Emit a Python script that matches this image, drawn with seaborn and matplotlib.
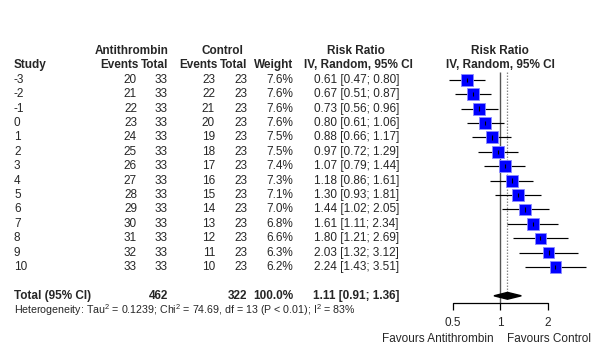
import numpy as np
import matplotlib
matplotlib.use('Agg')
import matplotlib.pyplot as plt
import seaborn as sns

# data
studies = ['-3', '-2', '-1', '0', '1', '2', '3', '4', '5', '6', '7', '8', '9', '10']
ev_anti = [20, 21, 22, 23, 24, 25, 26, 27, 28, 29, 30, 31, 32, 33]
n_anti = [33, 33, 33, 33, 33, 33, 33, 33, 33, 33, 33, 33, 33, 33]
ev_ctrl = [23, 22, 21, 20, 19, 18, 17, 16, 15, 14, 13, 12, 11, 10]
n_ctrl = [23, 23, 23, 23, 23, 23, 23, 23, 23, 23, 23, 23, 23, 23]
weight = [7.6, 7.6, 7.6, 7.6, 7.5, 7.5, 7.4, 7.3, 7.1, 7.0, 6.8, 6.6, 6.3, 6.2]
rr = [0.61, 0.67, 0.73, 0.80, 0.88, 0.97, 1.07, 1.18, 1.30, 1.44, 1.61, 1.80, 2.03, 2.24]
rr_lo = [0.47, 0.51, 0.56, 0.61, 0.66, 0.72, 0.79, 0.86, 0.93, 1.02, 1.11, 1.21, 1.32, 1.43]
rr_hi = [0.80, 0.87, 0.96, 1.06, 1.17, 1.29, 1.44, 1.61, 1.81, 2.05, 2.34, 2.69, 3.12, 3.51]
pooled = (1.11, 0.91, 1.36)
total_anti = 462
total_ctrl = 322
ticks = [0.5, 1, 2]
het_text = ('Heterogeneity: Tau$^2$ = 0.1239; Chi$^2$ = 74.69, df = 13 '
            '(P < 0.01); I$^2$ = 83%')

sns.set_theme(style='white')
plt.rcParams['font.family'] = ['Liberation Sans', 'DejaVu Sans']
plt.rcParams['mathtext.fontset'] = 'custom'
plt.rcParams['mathtext.rm'] = 'Liberation Sans'
fs = 8.5

fig = plt.figure(figsize=(6, 3.6), dpi=100)
ax = fig.add_axes([0, 0, 1, 1])
ax.set_xlim(0, 600)
ax.set_ylim(360, 0)
ax.axis('off')

fx = fig.add_axes([420 / 600, 0, 180 / 600, 1])
fx.set_xscale('log')
fx.set_xlim(0.307, 4.32)
fx.set_ylim(360, 0)
fx.axis('off')

# row layout (pixel units)
def row_y(k):
    return 51 + 14.4 * k

ys = np.array([row_y(k + 2) for k in range(len(studies))])
y_tot = row_y(17)

# headers
hb = dict(fontsize=fs, fontweight='bold', va='center')
ax.text(132, row_y(0), 'Antithrombin', ha='center', **hb)
ax.text(222, row_y(0), 'Control', ha='center', **hb)
ax.text(356, row_y(0), 'Risk Ratio', ha='center', **hb)
ax.text(14, row_y(1), 'Study', ha='left', **hb)
ax.text(139, row_y(1), 'Events', ha='right', **hb)
ax.text(168, row_y(1), 'Total', ha='right', **hb)
ax.text(218, row_y(1), 'Events', ha='right', **hb)
ax.text(247, row_y(1), 'Total', ha='right', **hb)
ax.text(293, row_y(1), 'Weight', ha='right', **hb)
ax.text(358, row_y(1), 'IV, Random, 95% CI', ha='center', **hb)
fx.text(1, row_y(0), 'Risk Ratio', ha='center', **hb)
fx.text(1, row_y(1), 'IV, Random, 95% CI', ha='center', **hb)

# study rows
tn = dict(fontsize=fs, va='center')
for i, s in enumerate(studies):
    y = ys[i]
    ax.text(14, y, s, ha='left', **tn)
    ax.text(137, y, str(ev_anti[i]), ha='right', **tn)
    ax.text(168, y, str(n_anti[i]), ha='right', **tn)
    ax.text(215, y, str(ev_ctrl[i]), ha='right', **tn)
    ax.text(247, y, str(n_ctrl[i]), ha='right', **tn)
    ax.text(293, y, f'{weight[i]:.1f}%', ha='right', **tn)
    ax.text(399, y, f'{rr[i]:.2f} [{rr_lo[i]:.2f}; {rr_hi[i]:.2f}]', ha='right', **tn)

# total row
ax.text(14, y_tot, 'Total (95% CI)', ha='left', **hb)
ax.text(168, y_tot, str(total_anti), ha='right', **hb)
ax.text(247, y_tot, str(total_ctrl), ha='right', **hb)
ax.text(293, y_tot, '100.0%', ha='right', **hb)
ax.text(399, y_tot, f'{pooled[0]:.2f} [{pooled[1]:.2f}; {pooled[2]:.2f}]', ha='right', **hb)
ax.text(14, 310, het_text, ha='left', va='center', fontsize=7.7)

# forest part
axis_y = 302.7
fx.vlines(1, 72, axis_y, color='#555555', lw=1, zorder=1)
fx.vlines(pooled[0], 72, y_tot - 3, color='#888888', lw=0.9, linestyles=(0, (1.2, 1.2)), zorder=1)
fx.hlines(ys, rr_lo, rr_hi, color='black', lw=0.85, zorder=2)

sizes = (12.2 * np.sqrt(np.array(weight) / 7.6) * 0.72) ** 2
sns.scatterplot(x=rr, y=ys, ax=fx, marker='s', s=sizes, color='#0000ff',
                edgecolor='#8c8cff', linewidth=0.6, zorder=3, legend=False)
fx.vlines(rr, ys - 2.2, ys + 2.2, color='black', lw=0.8, zorder=4)

# pooled diamond
fx.fill([pooled[1], pooled[0], pooled[2], pooled[0]],
        [y_tot, y_tot - 3.4, y_tot, y_tot + 3.4], color='black', zorder=4)

# x axis
fx.plot([ticks[0], ticks[-1]], [axis_y, axis_y], color='black', lw=0.9)
fx.vlines(ticks, axis_y, axis_y + 7, color='black', lw=0.9)
for t in ticks:
    fx.text(t, 323.5, f'{t:g}', ha='center', va='center', fontsize=fs)
ax.text(494, 339, 'Favours Antithrombin', ha='right', va='center', fontsize=fs)
ax.text(507, 339, 'Favours Control', ha='left', va='center', fontsize=fs)

fig.savefig('out.png', dpi=100)
